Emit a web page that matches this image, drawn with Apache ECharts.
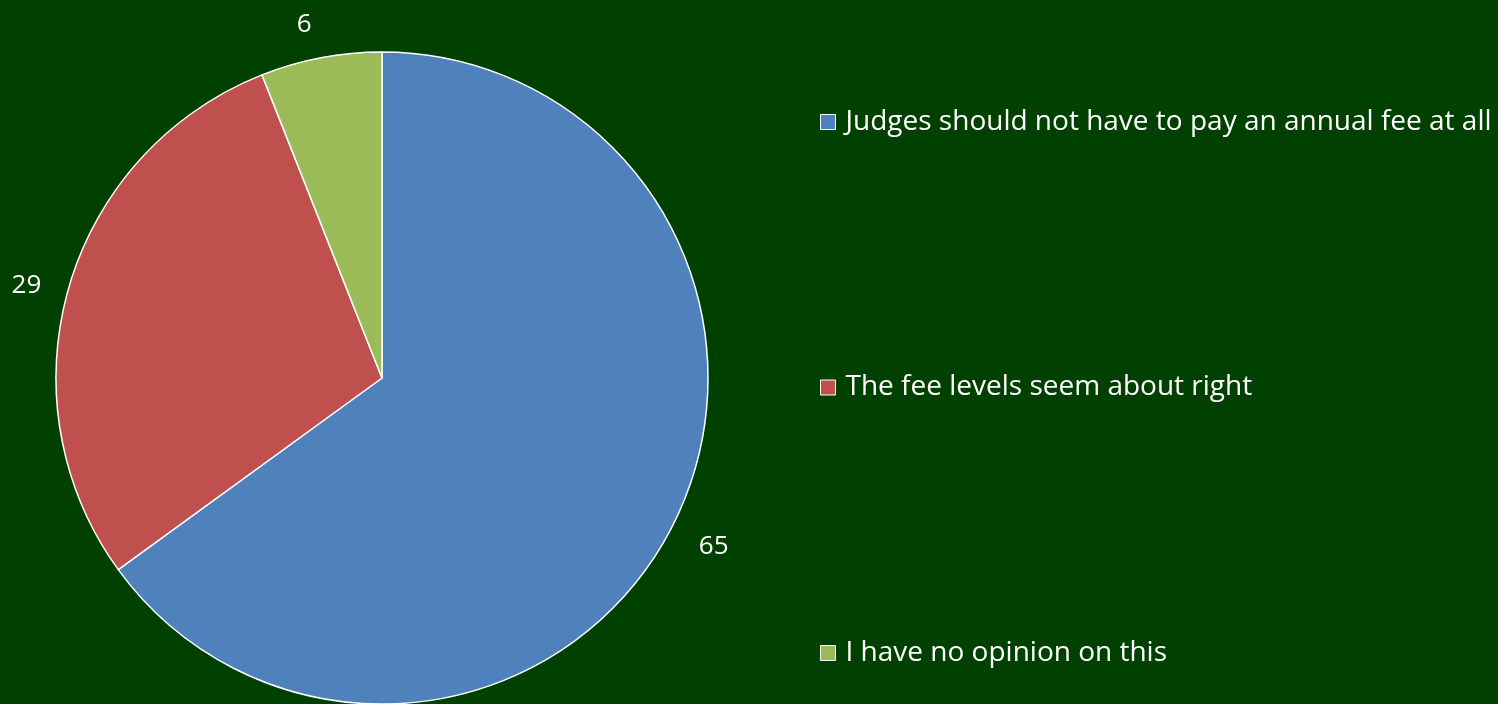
<!DOCTYPE html>
<html>
<head>
<meta charset="utf-8">
<script src="https://cdn.jsdelivr.net/npm/echarts@6/dist/echarts.min.js"></script>
<style>
  html, body { margin: 0; padding: 0; background: #004000; }
  #chart { width: 1498px; height: 704px; }
</style>
</head>
<body>
<div id="chart"></div>
<script>
// Survey responses on the judges' annual fee
const categories = [
  'Judges should not have to pay an annual fee at all',
  'The fee levels seem about right',
  'I have no opinion on this'
];
const values = [65, 29, 6];
const colors = ['#4F81BD', '#C0504D', '#9BBB59'];

const chart = echarts.init(document.getElementById('chart'));
const fontFamily = '"Open Sans", "Noto Sans", sans-serif';

// small nudges for the outside value labels
const labelNudge = [[-4, 5], [5, 8], [-3, 0]];

chart.setOption({
  backgroundColor: '#004000',
  animation: false,
  color: colors,
  legend: {
    orient: 'vertical',
    left: 815,
    top: 102,
    itemWidth: 15,
    itemHeight: 15,
    itemGap: 235.5,
    itemTextGap: 10,
    icon: 'rect',
    itemStyle: { borderColor: '#ffffff', borderWidth: 1 },
    textStyle: {
      color: '#ffffff', fontSize: 28, fontFamily: fontFamily, lineHeight: 30,
      padding: [0, 0, 0, 5]
    },
    data: categories
  },
  series: [{
    type: 'pie',
    center: [382, 378],
    radius: 326,
    startAngle: 90,
    clockwise: true,
    data: categories.map((name, i) => ({ name: name, value: values[i] })),
    itemStyle: { borderColor: '#ffffff', borderWidth: 1.5 },
    label: {
      show: true,
      position: 'outside',
      formatter: '{c}',
      color: '#ffffff',
      fontSize: 26,
      fontFamily: fontFamily,
      overflow: 'none',
      distanceToLabelLine: 0
    },
    labelLine: { show: false, length: 34, length2: 0 },
    labelLayout: function (params) {
      const n = labelNudge[params.dataIndex] || [0, 0];
      return { dx: n[0], dy: n[1] };
    },
    emphasis: { disabled: true }
  }]
});
</script>
</body>
</html>
